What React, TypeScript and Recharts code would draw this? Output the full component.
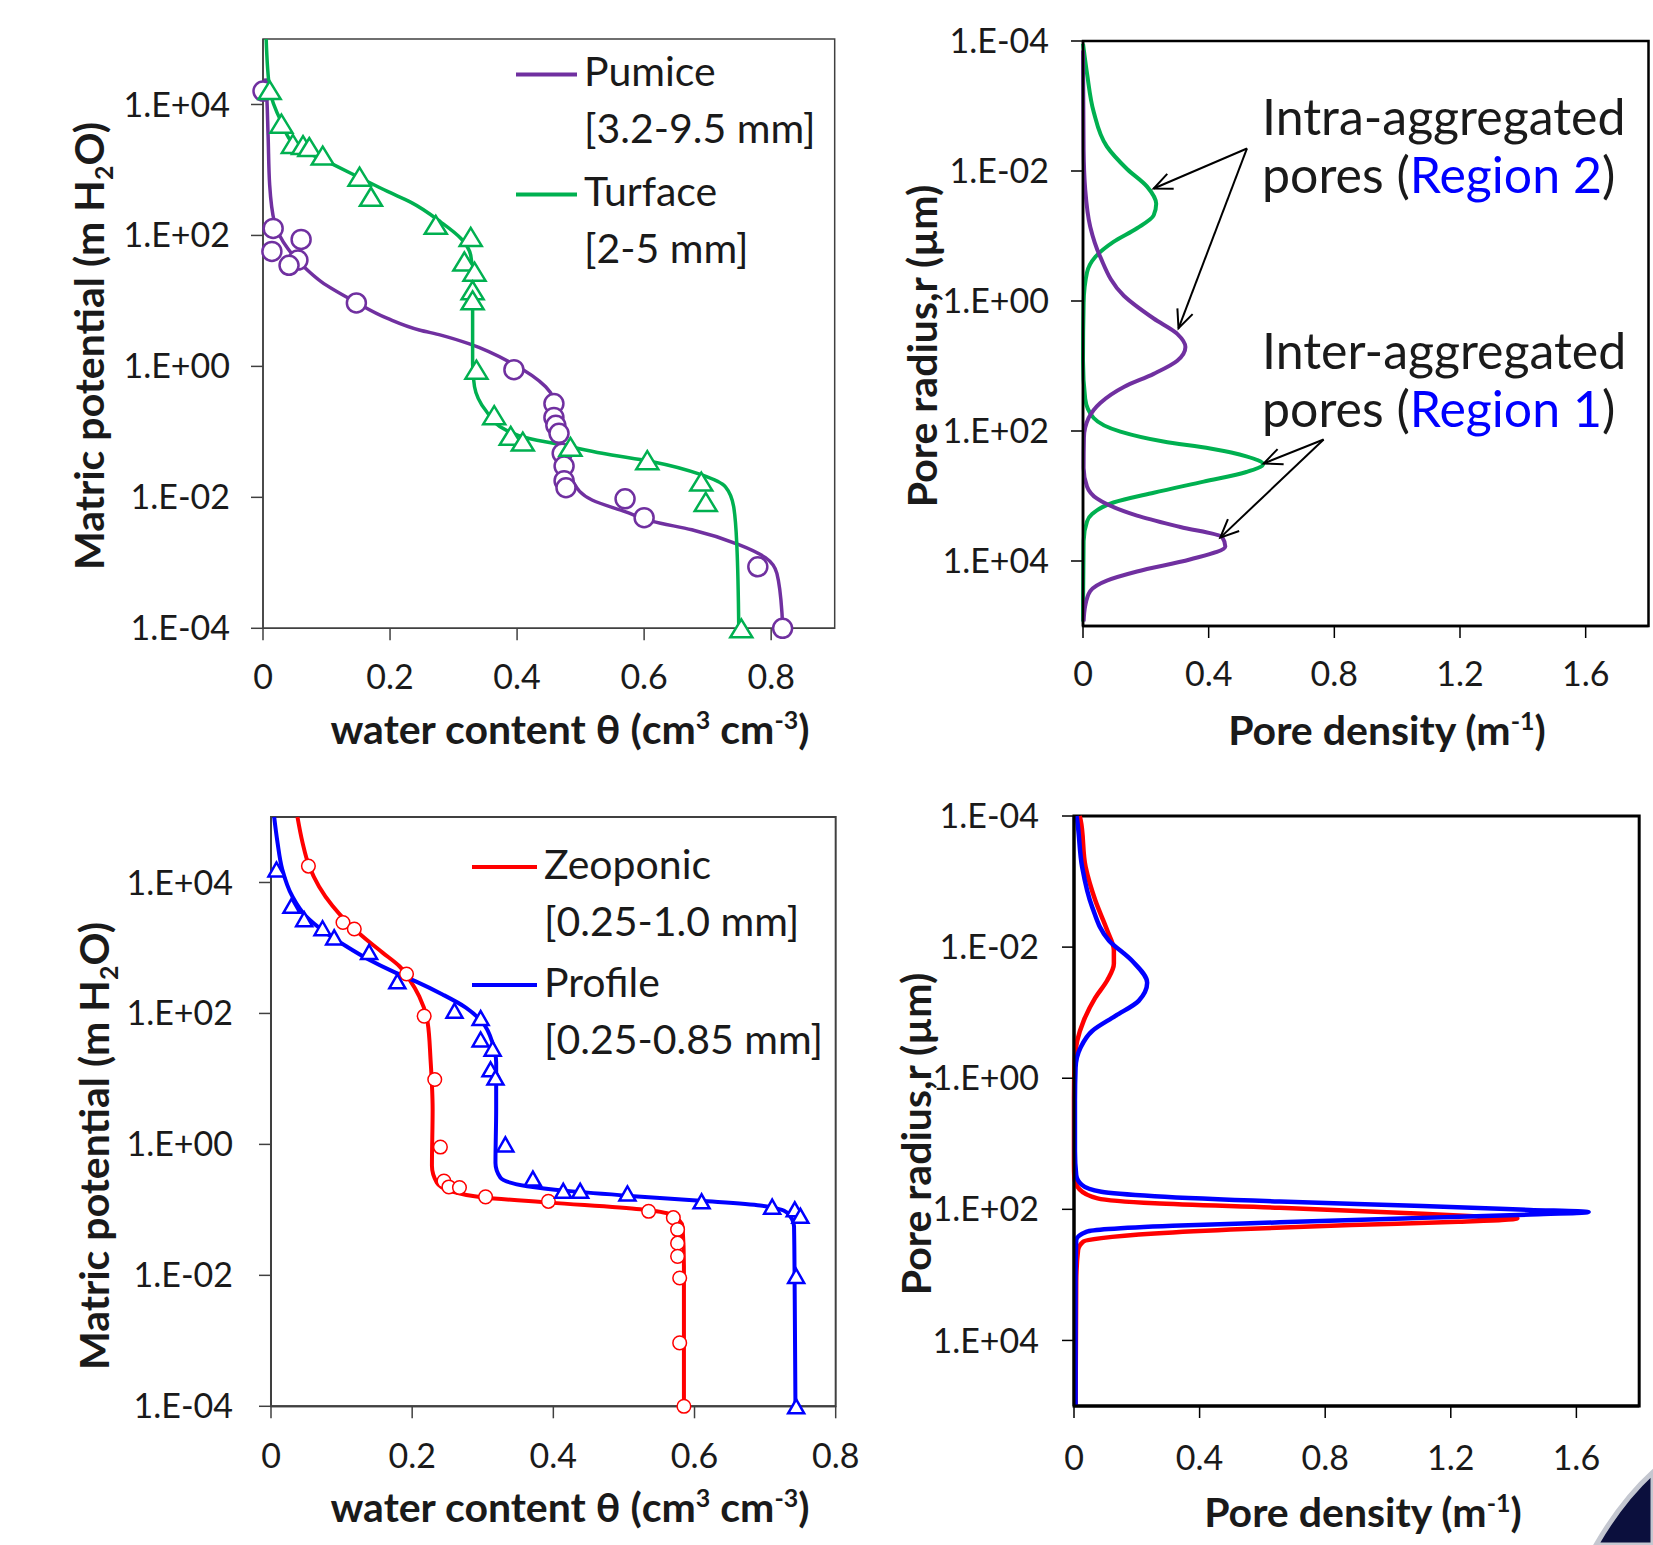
import React from "react";
import {
  ComposedChart,
  Line,
  Scatter,
  XAxis,
  YAxis,
  ReferenceArea,
  ReferenceLine,
  Legend,
} from "recharts";

type Pair = [number, number];
type Pt = { x: number; y: number };

const FONT = "Lato, 'Open Sans', 'DejaVu Sans', sans-serif";
const PURPLE = "#7030A0";
const GREEN = "#00B050";
const RED = "#FF0000";
const BLUE = "#0000FF";
const INK = "#1a1a1a";

// ---- water retention, top (theta, matric potential m H2O)
const pumiceFit: Pair[] = [
  [0.004, 2.5e4], [0.005, 1.9e4], [0.008, 3.4e3], [0.0105, 590], [0.018, 160], [0.039, 63],
  [0.066, 32], [0.092, 19.5], [0.144, 9.8], [0.196, 5.4], [0.246, 3.6], [0.28, 3.0],
  [0.325, 2.2], [0.393, 1.1], [0.445, 0.49], [0.466, 0.19], [0.471, 0.059], [0.487, 0.018],
  [0.518, 0.0091], [0.571, 0.006], [0.613, 0.0043], [0.675, 0.0032], [0.749, 0.0019],
  [0.791, 0.0012], [0.809, 0.00069], [0.817, 0.00017], [0.818, 0.0001],
];
const pumiceObs: Pair[] = [
  [0, 1.6e4], [0.016, 128], [0.06, 87], [0.014, 57], [0.055, 42], [0.041, 35], [0.147, 9.3],
  [0.395, 0.89], [0.458, 0.27], [0.458, 0.166], [0.461, 0.126], [0.466, 0.095], [0.471, 0.047],
  [0.474, 0.03], [0.474, 0.018], [0.477, 0.014], [0.57, 0.0095], [0.6, 0.0049],
  [0.779, 0.00087], [0.818, 0.0001],
];
const turfaceFit: Pair[] = [
  [0.005, 1e5], [0.0105, 1.7e4], [0.029, 5.4e3], [0.05, 2.4e3], [0.107, 1.26e3], [0.155, 740],
  [0.196, 470], [0.233, 320], [0.28, 160], [0.312, 89], [0.327, 50], [0.33, 25], [0.33, 3.0],
  [0.33, 1.1], [0.333, 0.49], [0.351, 0.21], [0.382, 0.107], [0.419, 0.079], [0.471, 0.063],
  [0.534, 0.047], [0.613, 0.035], [0.691, 0.022], [0.728, 0.0145], [0.741, 0.0072],
  [0.746, 0.0018], [0.749, 0.0001],
];
const turfaceObs: Pair[] = [
  [0.0105, 1.66e4], [0.029, 5.1e3], [0.047, 2.5e3], [0.063, 2.4e3], [0.073, 2.24e3],
  [0.094, 1.66e3], [0.152, 790], [0.17, 390], [0.272, 145], [0.327, 95], [0.317, 40],
  [0.333, 28], [0.33, 14.5], [0.33, 10.2], [0.336, 0.89], [0.364, 0.18], [0.39, 0.087],
  [0.409, 0.071], [0.484, 0.059], [0.605, 0.037], [0.69, 0.0174], [0.697, 0.0085], [0.753, 0.0001],
];

// ---- pore size distribution, top (pore density, pore radius um)
const pumicePsd: Pair[] = [
  [0, 1.4e-4], [0.002, 4.8e-3], [0.007, 0.019], [0.023, 0.072], [0.055, 0.21], [0.13, 0.83],
  [0.225, 1.86], [0.3, 3.2], [0.326, 5.1], [0.3, 8.3], [0.225, 13.2], [0.13, 21], [0.055, 37],
  [0.018, 63], [0.003, 126], [0.002, 370], [0.013, 720], [0.045, 1100], [0.172, 2000],
  [0.31, 3000], [0.443, 4300], [0.453, 6000], [0.34, 9500], [0.172, 14500], [0.076, 20000],
  [0.023, 29000], [0.007, 49000], [0.002, 85000],
];
const turfacePsd: Pair[] = [
  [0, 1.1e-4], [0.013, 3.2e-4], [0.034, 1.23e-3], [0.076, 4.2e-3], [0.14, 9.3e-3],
  [0.204, 0.0174], [0.233, 0.032], [0.225, 0.048], [0.172, 0.076], [0.097, 0.123],
  [0.039, 0.21], [0.013, 0.36], [0.002, 1.07], [0, 8.3], [0.007, 32], [0.034, 63],
  [0.119, 102], [0.256, 145], [0.405, 186], [0.52, 245], [0.573, 324], [0.52, 427],
  [0.384, 600], [0.225, 890], [0.097, 1260], [0.029, 1900], [0.013, 2450], [0.002, 4900],
  [0, 85000],
];

// ---- water retention, bottom
const zeoponicFit: Pair[] = [
  [0.0375, 1e5], [0.0446, 4.1e4], [0.054, 1.78e4], [0.068, 8.7e3], [0.087, 4.4e3],
  [0.106, 2.6e3], [0.13, 1.5e3], [0.158, 850], [0.182, 525], [0.196, 330], [0.21, 182],
  [0.222, 72], [0.226, 20], [0.229, 3.4], [0.228, 0.47], [0.235, 0.26], [0.254, 0.195],
  [0.301, 0.155], [0.396, 0.129], [0.523, 0.102], [0.566, 0.085], [0.583, 0.056],
  [0.585, 0.0138], [0.585, 0.0001],
];
const zeoponicObs: Pair[] = [
  [0.053, 1.78e4], [0.102, 2.45e3], [0.118, 1.95e3], [0.192, 400], [0.217, 91], [0.232, 9.8],
  [0.24, 0.91], [0.245, 0.275], [0.252, 0.224], [0.267, 0.219], [0.304, 0.158], [0.393, 0.135],
  [0.535, 0.095], [0.57, 0.076], [0.576, 0.05], [0.576, 0.031], [0.576, 0.0195],
  [0.579, 0.0091], [0.579, 0.00093], [0.585, 0.0001],
];
const profileFit: Pair[] = [
  [0.0045, 1e5], [0.0092, 4.1e4], [0.016, 1.58e4], [0.03, 6.2e3], [0.049, 3.1e3],
  [0.078, 1.7e3], [0.106, 1.07e3], [0.139, 660], [0.177, 417], [0.205, 309], [0.243, 195],
  [0.276, 123], [0.3, 72], [0.314, 35], [0.319, 17.8], [0.319, 3.4], [0.318, 0.52],
  [0.325, 0.31], [0.363, 0.23], [0.42, 0.195], [0.514, 0.162], [0.608, 0.138], [0.693, 0.117],
  [0.731, 0.091], [0.741, 0.056], [0.742, 0.0043], [0.743, 0.0001],
];
const profileObs: Pair[] = [
  [0.0078, 1.58e4], [0.029, 4.4e3], [0.047, 2.75e3], [0.073, 2.0e3], [0.0895, 1.45e3],
  [0.139, 870], [0.179, 309], [0.26, 110], [0.297, 85], [0.297, 40], [0.314, 29], [0.311, 14],
  [0.318, 10.5], [0.332, 1.0], [0.371, 0.3], [0.414, 0.195], [0.438, 0.195], [0.505, 0.178],
  [0.61, 0.135], [0.71, 0.112], [0.742, 0.102], [0.75, 0.081], [0.744, 0.0098], [0.744, 0.0001],
];

// ---- pore size distribution, bottom
const zeoponicPsd: Pair[] = [
  [0.018, 1e-4], [0.021, 1.15e-4], [0.037, 6e-4], [0.068, 1.95e-3], [0.106, 5.6e-3],
  [0.127, 0.0112], [0.127, 0.018], [0.106, 0.032], [0.068, 0.059], [0.031, 0.132],
  [0.01, 0.27], [0.002, 0.55], [0, 2], [0, 20], [0.001, 33], [0.018, 50], [0.075, 68],
  [0.257, 81], [0.655, 95], [1.11, 117], [1.338, 132], [1.412, 138], [1.224, 155],
  [0.883, 174], [0.542, 200], [0.257, 234], [0.087, 275], [0.03, 309], [0.013, 417],
  [0.007, 1290], [0.005, 1e5],
];
const profilePsd: Pair[] = [
  [0.008, 1e-4], [0.01, 1.15e-4], [0.026, 6e-4], [0.058, 2.45e-3], [0.111, 7.9e-3],
  [0.185, 0.0162], [0.233, 0.035], [0.206, 0.066], [0.132, 0.112], [0.058, 0.19],
  [0.021, 0.34], [0.005, 0.69], [0.003, 2.2], [0.003, 13], [0.007, 30], [0.024, 42],
  [0.087, 54], [0.257, 63], [0.655, 76], [1.11, 89], [1.452, 102], [1.639, 110], [1.452, 120],
  [1.11, 135], [0.655, 158], [0.314, 178], [0.11, 200], [0.041, 219], [0.007, 295],
  [0.005, 1290], [0.005, 1e5],
];

// annotation arrows (from text to peak), top-right panel
const arrowSegments: [Pair, Pair][] = [
  [[0.522, 4.5e-3], [0.225, 0.0186]],
  [[0.522, 4.5e-3], [0.304, 2.63]],
  [[0.766, 135], [0.575, 316]],
  [[0.766, 135], [0.437, 4370]],
];

const thetaTicks = [0, 0.2, 0.4, 0.6, 0.8];
const densityTicks = [0, 0.4, 0.8, 1.2, 1.6];
const logTicks = [1e-4, 1e-2, 1, 1e2, 1e4];

const topLegend = [
  { name: "Pumice", range: "[3.2-9.5 mm]", color: PURPLE },
  { name: "Turface", range: "[2-5 mm]", color: GREEN },
];
const bottomLegend = [
  { name: "Zeoponic", range: "[0.25-1.0 mm]", color: RED },
  { name: "Profile", range: "[0.25-0.85 mm]", color: BLUE },
];

const pts = (a: Pair[]): Pt[] => a.map(([x, y]) => ({ x, y }));

const fmtExp = (v: number) => {
  const e = Math.round(Math.log10(v));
  return `1.E${e < 0 ? "-" : "+"}${String(Math.abs(e)).padStart(2, "0")}`;
};

// layout
type Box = { x: number; y: number; w: number; h: number };
const Y_W = 150;
const X_H = 100;
const M_T = 30;

const boxTL: Box = { x: 263.3, y: 39, w: 571.7, h: 589.3 };
const boxTR: Box = { x: 1082.7, y: 41, w: 565.5, h: 585 };
const boxBL: Box = { x: 270.5, y: 817, w: 564.7, h: 589.3 };
const boxBR: Box = { x: 1073.5, y: 816, w: 565.2, h: 590 };

const circle = (r: number, color: string, sw: number) => (p: any) => (
  <circle cx={p.cx} cy={p.cy} r={r} fill="#fff" stroke={color} strokeWidth={sw} />
);

const triangle = (w: number, h: number, color: string, sw: number) => (p: any) => (
  <polygon
    points={`${p.cx},${p.cy - h / 2} ${p.cx - w / 2},${p.cy + h / 2} ${p.cx + w / 2},${p.cy + h / 2}`}
    fill="#fff"
    stroke={color}
    strokeWidth={sw}
    strokeLinejoin="miter"
  />
);

const Arrow = (p: any) => {
  const { x1, y1, x2, y2 } = p;
  const a = Math.atan2(y2 - y1, x2 - x1);
  const L = 20;
  const s = 0.42;
  const hx = (t: number) => x2 - L * Math.cos(a + t);
  const hy = (t: number) => y2 - L * Math.sin(a + t);
  return (
    <g>
      <line x1={x1} y1={y1} x2={x2} y2={y2} stroke="#000" strokeWidth={2} />
      <polyline
        points={`${hx(-s)},${hy(-s)} ${x2},${y2} ${hx(s)},${hy(s)}`}
        fill="none"
        stroke="#000"
        strokeWidth={2}
      />
    </g>
  );
};

function LegendBox({
  entries,
  base,
  step,
  lineLen,
}: {
  entries: { name: string; range: string; color: string }[];
  base: number;
  step: number;
  lineLen: number;
}) {
  const txt = { fontSize: 41, fontFamily: FONT, fill: INK };
  return (
    <svg width={420} height={250} style={{ display: "block", overflow: "visible" }}>
      {entries.map((e, i) => {
        const b = base + i * step;
        return (
          <g key={e.name}>
            <line x1={6} x2={6 + lineLen} y1={b - 12} y2={b - 12} stroke={e.color} strokeWidth={4} />
            <text x={lineLen + 13} y={b} {...txt}>{e.name}</text>
            <text x={lineLen + 13} y={b + 57} {...txt}>{e.range}</text>
          </g>
        );
      })}
    </svg>
  );
}

type PanelProps = {
  box: Box;
  xMax: number;
  xTicks: number[];
  reversed?: boolean;
  ink: string;
  frameW: number;
  xMargin: number;
  yMargin: number;
  right: number;
  children: React.ReactNode;
};

function Panel({ box, xMax, xTicks, reversed = false, ink, frameW, xMargin, yMargin, right, children }: PanelProps) {
  const tick = { fontSize: 34, fill: INK, fontFamily: FONT };
  return (
    <div style={{ position: "absolute", left: box.x - Y_W, top: box.y - M_T }}>
      <ComposedChart
        width={Y_W + box.w + right}
        height={M_T + box.h + X_H}
        margin={{ top: M_T, right, bottom: 0, left: 0 }}
      >
        <ReferenceArea
          x1={0}
          x2={xMax}
          y1={1e-4}
          y2={1e5}
          fill="none"
          fillOpacity={0}
          stroke={ink}
          strokeWidth={frameW}
          ifOverflow="visible"
        />
        <XAxis
          type="number"
          dataKey="x"
          domain={[0, xMax]}
          ticks={xTicks}
          interval={0}
          height={X_H}
          tick={tick}
          tickFormatter={(v) => String(v)}
          tickSize={12}
          tickMargin={xMargin}
          axisLine={{ stroke: ink, strokeWidth: frameW }}
          tickLine={{ stroke: ink, strokeWidth: 1.5 }}
        />
        <YAxis
          type="number"
          dataKey="y"
          scale="log"
          domain={[1e-4, 1e5]}
          ticks={logTicks}
          interval={0}
          reversed={reversed}
          width={Y_W}
          tick={tick}
          tickFormatter={fmtExp}
          tickSize={12}
          tickMargin={yMargin}
          axisLine={{ stroke: ink, strokeWidth: frameW }}
          tickLine={{ stroke: ink, strokeWidth: 1.5 }}
        />
        {children}
      </ComposedChart>
    </div>
  );
}

const curve = (data: Pair[], color: string, width: number, key: string) => (
  <Line
    key={key}
    data={pts(data)}
    dataKey="y"
    type="monotoneY"
    stroke={color}
    strokeWidth={width}
    dot={false}
    activeDot={false}
    legendType="none"
    isAnimationActive={false}
  />
);

function Overlay() {
  const title = { fontFamily: FONT, fontWeight: 700, fontSize: 41, fill: INK } as const;
  const note = { fontFamily: FONT, fontSize: 50, fill: INK } as const;
  const sup = 25;
  return (
    <svg
      width={1653}
      height={1545}
      style={{ position: "absolute", left: 0, top: 0, pointerEvents: "none" }}
    >
      {/* top-left titles */}
      <text transform="translate(104,346) rotate(-90)" textAnchor="middle" {...title}>
        Matric potential (m H<tspan fontSize={sup} dy={9}>2</tspan>
        <tspan dy={-9}>O)</tspan>
      </text>
      <text x={570} y={744} textAnchor="middle" {...title}>
        water content θ (cm<tspan fontSize={sup} dy={-15}>3</tspan>
        <tspan dy={15}> cm</tspan>
        <tspan fontSize={sup} dy={-15}>-3</tspan>
        <tspan dy={15}>)</tspan>
      </text>
      {/* top-right titles */}
      <text transform="translate(937,346) rotate(-90)" textAnchor="middle" {...title}>
        Pore radius,r (µm)
      </text>
      <text x={1387} y={745} textAnchor="middle" {...title}>
        Pore density (m<tspan fontSize={sup} dy={-15}>-1</tspan>
        <tspan dy={15}>)</tspan>
      </text>
      {/* bottom-left titles */}
      <text transform="translate(109,1146) rotate(-90)" textAnchor="middle" {...title}>
        Matric potential (m H<tspan fontSize={sup} dy={9}>2</tspan>
        <tspan dy={-9}>O)</tspan>
      </text>
      <text x={570} y={1522} textAnchor="middle" {...title}>
        water content θ (cm<tspan fontSize={sup} dy={-15}>3</tspan>
        <tspan dy={15}> cm</tspan>
        <tspan fontSize={sup} dy={-15}>-3</tspan>
        <tspan dy={15}>)</tspan>
      </text>
      {/* bottom-right titles */}
      <text transform="translate(931,1134) rotate(-90)" textAnchor="middle" {...title}>
        Pore radius,r (µm)
      </text>
      <text x={1363} y={1527} textAnchor="middle" {...title}>
        Pore density (m<tspan fontSize={sup} dy={-15}>-1</tspan>
        <tspan dy={15}>)</tspan>
      </text>
      {/* annotations */}
      <text x={1262} y={135} {...note}>Intra-aggregated</text>
      <text x={1262} y={193} {...note}>
        pores (<tspan fill={BLUE}>Region 2</tspan>)
      </text>
      <text x={1262} y={369} {...note}>Inter-aggregated</text>
      <text x={1262} y={427} {...note}>
        pores (<tspan fill={BLUE}>Region 1</tspan>)
      </text>
      {/* slide corner decoration */}
      <path d="M1596,1545 Q1622,1500 1653,1472 L1653,1545 Z" fill="#0b0f3d" stroke="#c4c7d0" strokeWidth={5} />
    </svg>
  );
}

export default function App() {
  return (
    <div
      style={{
        position: "absolute",
        left: 0,
        top: 0,
        width: 1653,
        height: 1545,
        overflow: "hidden",
        background: "#fff",
      }}
    >
      <Panel box={boxTL} xMax={0.9} xTicks={thetaTicks} ink="#404040" frameW={1.5} xMargin={25} yMargin={21} right={40}>
        {curve(pumiceFit, PURPLE, 3.5, "pf")}
        {curve(turfaceFit, GREEN, 3.5, "tf")}
        <Scatter data={pts(pumiceObs)} fill={PURPLE} shape={circle(9.5, PURPLE, 2.5)} isAnimationActive={false} />
        <Scatter data={pts(turfaceObs)} fill={GREEN} shape={triangle(22, 18, GREEN, 2.5)} isAnimationActive={false} />
        <Legend
          layout="horizontal"
          verticalAlign="middle"
          align="center"
          wrapperStyle={{ left: 510 - (boxTL.x - Y_W), top: 40 - (boxTL.y - M_T), width: 420, height: 250 }}
          content={() => <LegendBox entries={topLegend} base={46.4} step={120} lineLen={61} />}
        />
      </Panel>

      <Panel box={boxTR} xMax={1.8} xTicks={densityTicks} reversed ink="#000" frameW={2.5} xMargin={24} yMargin={22} right={4}>
        {curve(turfacePsd, GREEN, 4, "tp")}
        {curve(pumicePsd, PURPLE, 4, "pp")}
        {arrowSegments.map(([a, b], i) => (
          <ReferenceLine
            key={`ar${i}`}
            segment={[{ x: a[0], y: a[1] }, { x: b[0], y: b[1] }]}
            shape={Arrow}
            ifOverflow="visible"
          />
        ))}
      </Panel>

      <Panel box={boxBL} xMax={0.8} xTicks={thetaTicks} ink="#404040" frameW={2} xMargin={26} yMargin={26} right={40}>
        {curve(zeoponicFit, RED, 4, "zf")}
        {curve(profileFit, BLUE, 4, "prf")}
        <Scatter data={pts(zeoponicObs)} fill={RED} shape={circle(6.8, RED, 1.5)} isAnimationActive={false} />
        <Scatter data={pts(profileObs)} fill={BLUE} shape={triangle(16, 14, BLUE, 2.5)} isAnimationActive={false} />
        <Legend
          layout="horizontal"
          verticalAlign="middle"
          align="center"
          wrapperStyle={{ left: 466 - (boxBL.x - Y_W), top: 830 - (boxBL.y - M_T), width: 420, height: 250 }}
          content={() => <LegendBox entries={bottomLegend} base={49} step={118} lineLen={65} />}
        />
      </Panel>

      <Panel box={boxBR} xMax={1.8} xTicks={densityTicks} reversed ink="#000" frameW={3} xMargin={28} yMargin={23} right={4}>
        {curve(zeoponicPsd, RED, 4.5, "zp")}
        {curve(profilePsd, BLUE, 4.5, "prp")}
      </Panel>

      <Overlay />
    </div>
  );
}
